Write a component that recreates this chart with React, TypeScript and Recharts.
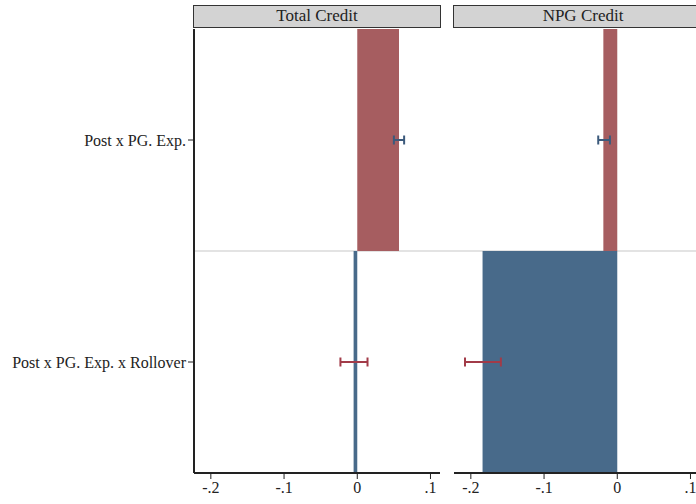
import type { FC } from "react";
import { BarChart, Bar, XAxis, YAxis, ErrorBar } from "recharts";

// categories and estimates
const terms = ["Post x PG. Exp.", "Post x PG. Exp. x Rollover"];
const totalCoef = [0.057, -0.005];
const totalLo = [0.05, -0.023];
const totalHi = [0.064, 0.014];
const npgCoef = [-0.019, -0.184];
const npgLo = [-0.026, -0.208];
const npgHi = [-0.01, -0.159];
const xTicks = [-0.2, -0.1, 0, 0.1];

const FONT = "'Liberation Serif', 'DejaVu Serif', serif";
const RED = "#a65d60";
const BLUE = "#486a8a";
const ERR_TOP = "#3c5a7c";
const ERR_BOT = "#a23b48";

const fmt = (v: number) => (v === 0 ? "0" : v.toFixed(1).replace("0.", "."));

// row 0 -> series "a", row 1 -> series "b", so each row gets its own colours
const buildRows = (coef: number[], lo: number[], hi: number[]) =>
  terms.map((name, i) => ({
    name,
    a: i === 0 ? coef[i] : null,
    aErr: i === 0 ? [coef[i] - lo[i], hi[i] - coef[i]] : null,
    b: i === 1 ? coef[i] : null,
    bErr: i === 1 ? [coef[i] - lo[i], hi[i] - coef[i]] : null,
  }));

const totalRows = buildRows(totalCoef, totalLo, totalHi);
const npgRows = buildRows(npgCoef, npgLo, npgHi);

interface PanelProps {
  data: ReturnType<typeof buildRows>;
  showLabels: boolean;
  width: number;
  marginRight: number;
}

const Panel: FC<PanelProps> = ({ data, showLabels, width, marginRight }) => (
  <BarChart
    width={width}
    height={504}
    data={data}
    layout="vertical"
    barCategoryGap={0}
    margin={{ top: 29, right: marginRight, left: 0, bottom: 0 }}
  >
    <XAxis
      type="number"
      domain={[-0.223, 0.113]}
      allowDataOverflow
      ticks={xTicks}
      tickFormatter={fmt}
      height={31}
      tickSize={6}
      tickMargin={3}
      stroke="#222"
      axisLine={{ stroke: "#222", strokeWidth: 2 }}
      tick={{ fill: "#222", fontSize: 16, fontFamily: FONT }}
    />
    <YAxis
      yAxisId="a"
      type="category"
      dataKey="name"
      width={showLabels ? 194 : 0}
      tick={showLabels ? { fill: "#222", fontSize: 16, fontFamily: FONT } : false}
      tickLine={showLabels ? { stroke: "#222" } : false}
      tickSize={6}
      tickMargin={2}
      axisLine={{ stroke: "#222", strokeWidth: 2 }}
    />
    <YAxis
      yAxisId="b"
      type="category"
      dataKey="name"
      orientation="right"
      width={0}
      tick={false}
      tickLine={false}
      axisLine={{ stroke: "#555", strokeWidth: 2 }}
    />
    <Bar dataKey="a" yAxisId="a" fill={RED} isAnimationActive={false}>
      <ErrorBar dataKey="aErr" direction="x" width={4.5} stroke={ERR_TOP} strokeWidth={2} />
    </Bar>
    <Bar dataKey="b" yAxisId="b" fill={BLUE} isAnimationActive={false}>
      <ErrorBar dataKey="bErr" direction="x" width={4.5} stroke={ERR_BOT} strokeWidth={2} />
    </Bar>
  </BarChart>
);

const headerStyle = (left: number, width: number) => ({
  position: "absolute" as const,
  left,
  top: 5,
  width,
  height: 23,
  boxSizing: "border-box" as const,
  background: "#d3d3d3",
  border: "1.5px solid #333",
  textAlign: "center" as const,
  fontSize: 17,
  lineHeight: "20px",
  color: "#222",
  fontFamily: FONT,
});

const App: FC = () => (
  <div
    style={{
      position: "absolute",
      left: 0,
      top: 0,
      width: 696,
      height: 504,
      overflow: "hidden",
      background: "#fff",
      fontFamily: FONT,
    }}
  >
    {/* separator between the two rows */}
    <div
      style={{
        position: "absolute",
        left: 194,
        top: 250,
        width: 510,
        height: 2,
        background: "#e3e3e3",
      }}
    />
    <div style={{ position: "absolute", left: 0, top: 0 }}>
      <Panel data={totalRows} showLabels width={445} marginRight={5} />
    </div>
    <div style={{ position: "absolute", left: 454, top: 0 }}>
      <Panel data={npgRows} showLabels={false} width={250} marginRight={4} />
    </div>
    <div style={headerStyle(193, 248)}>Total Credit</div>
    <div style={headerStyle(453, 260)}>NPG Credit</div>
  </div>
);

export default App;
